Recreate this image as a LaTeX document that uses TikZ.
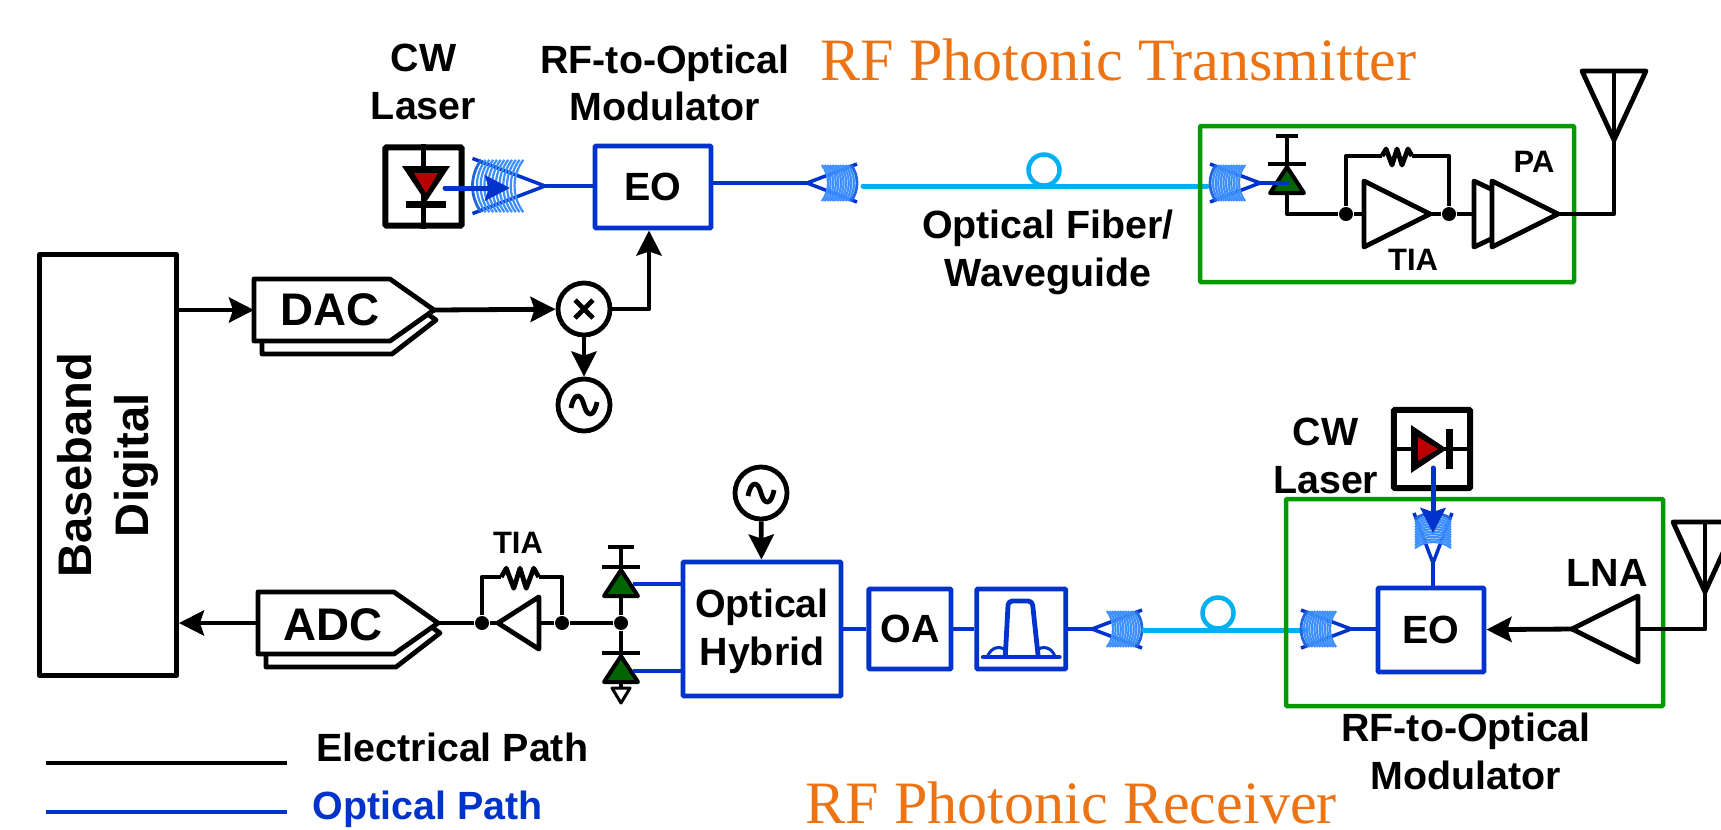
\documentclass[tikz,border=0pt]{standalone}
\usepackage{fontspec}
\setmainfont{Liberation Sans}
\newfontfamily\titlefont{Liberation Serif}
\usetikzlibrary{calc}
\usetikzlibrary{positioning}
\usetikzlibrary{arrows.meta}

\definecolor{optblue}{HTML}{0033CC}
\definecolor{grateblue}{HTML}{3D8FFF}
\definecolor{gratedark}{HTML}{1F66E0}
\definecolor{fiberblue}{HTML}{00B0F0}
\definecolor{boxgreen}{HTML}{009900}
\definecolor{pdgreen}{HTML}{006400}
\definecolor{ldred}{HTML}{B80000}
\definecolor{titleorange}{HTML}{ED7414}

\tikzset{
    wire/.style={draw=black, line width=0.048cm, line join=round},
    optwire/.style={draw=optblue, line width=0.048cm, line join=round},
    fiberline/.style={draw=fiberblue, line width=0.05cm, line cap=round},
    fiberloop/.style={circle, draw=fiberblue, line width=0.045cm, minimum size=0.31cm, inner sep=0pt},
    arw/.style={-{Stealth[length=0.25cm, width=0.25cm, inset=0.04cm]}},
    lbl/.style={font=\fontsize{11.2}{13.6}\selectfont\bfseries, align=center, inner sep=0pt},
    smalllbl/.style={font=\fontsize{8.8}{10.5}\selectfont\bfseries, align=center, inner sep=0pt},
    biglbl/.style={font=\fontsize{13.4}{16.2}\selectfont\bfseries, align=center, inner sep=0pt},
    convlbl/.style={font=\fontsize{13}{16}\selectfont\bfseries, inner sep=0pt},
    titlelbl/.style={font=\fontsize{17.1}{20}\selectfont\titlefont, text=titleorange, inner sep=0pt},
    optbox/.style={rectangle, draw=optblue, line width=0.048cm, fill=white, rounded corners=0.01cm, inner sep=0pt, font=\fontsize{11.2}{13.6}\selectfont\bfseries},
    laserbox/.style={rectangle, draw=black, line width=0.06cm, minimum width=0.76cm, minimum height=0.78cm, rounded corners=0.01cm},
    groupbox/.style={draw=boxgreen, line width=0.045cm, rounded corners=0.01cm},
    oscnode/.style={circle, wire, fill=white, minimum size=0.52cm, inner sep=0pt},
    dot/.style={circle, fill=black, minimum size=0.14cm, inner sep=0pt},
    coupler/.pic={
        \draw [optwire, line width=0.035cm] (50,-19) -- (0,0) -- (50,19);
        \foreach \d in {21,23.6,...,48} {
            \draw [grateblue, line width=0.022cm] (\d-30,0) ++(-37:30) arc [start angle=-37, end angle=37, radius=30];
        }
        \draw [gratedark, line width=0.028cm] (20,0) ++(-37:30) arc [start angle=-37, end angle=37, radius=30];
        \coordinate (-apex) at (0,0);
        \coordinate (-end) at (50,0);
    },
    photodiode/.pic={
        \draw [wire, fill=pdgreen, line width=0.04cm] (0,0) -- (-17,26) -- (17,26) -- cycle;
        \draw [wire] (-19,-3) -- (19,-3);
        \coordinate (-cat) at (0,-3);
        \coordinate (-ano) at (0,26);
    },
    laserdiode/.pic={
        \fill (0,0) -- (-24,-36) -- (24,-36) -- cycle;
        \fill [ldred] (0,-9) -- (-12,-29) -- (12,-29) -- cycle;
        \draw [wire, line width=0.07cm] (-20,2) -- (20,2);
        \coordinate (-cat) at (0,2);
        \coordinate (-ano) at (0,-36);
    },
    amp/.pic={
        \draw [wire, fill=white] (0,0) -- (-66,-33) -- (-66,33) -- cycle;
        \coordinate (-in) at (-66,0);
        \coordinate (-out) at (0,0);
    },
    resistor/.pic={
        \fill [white] (-15,-3) rectangle (15,3);
        \draw [wire] (-15,0) -- (-11,-7) -- (-5,9) -- (0,-7) -- (5,9) -- (11,-7) -- (15,0);
    },
    sinewave/.pic={
        \draw [wire] (-13,3) .. controls (-10,-13) and (-3,-12) .. (0,0) .. controls (3,12) and (10,13) .. (13,-3);
    },
    dataconv/.pic={
        \draw [wire] (-172,31) -- (-172,44) -- (-42,44) -- (2,10) -- (-5,5);
        \draw [wire, fill=white] (0,0) -- (-44,-31) -- (-180,-31) -- (-180,31) -- (-44,31) -- cycle;
        \coordinate (-in) at (-180,0);
        \coordinate (-tip) at (0,0);
    },
    passband/.pic={
        \draw [optwire, line cap=round] (-38,28) -- (38,28);
        \draw [optwire, rounded corners=0.04cm] (-16,28) -- (-13,-28) -- (11,-28) -- (17,28);
        \draw [optwire, line width=0.03cm] (-34,28) .. controls (-30,17) and (-21,17) .. (-15,21);
        \draw [optwire, line width=0.03cm] (34,28) .. controls (30,17) and (21,17) .. (15,21);
    },
}

\begin{document}
\begin{tikzpicture}[x=0.01cm, y=-0.01cm]
    \useasboundingbox (0,0) rectangle (1721,829);
    \clip (0,0) rectangle (1721,829);

    % digital side
    \node [rectangle, wire, minimum width=1.37cm, minimum height=4.21cm, inner sep=0pt] (baseband) at (108,465) {};
    \node [biglbl, rotate=90] (bbtext) at (baseband) {Baseband\\Digital};
    \pic (dacA) at (434,310) {dataconv};
    \node [convlbl] (dactext) at (330,310) {DAC};
    \pic (adcA) at (438,623) {dataconv};
    \node [convlbl] (adctext) at (333,625) {ADC};

    % transmitter
    \node [titlelbl, anchor=west] (txtitle) at (820,60) {RF Photonic Transmitter};
    \node [laserbox] (laserA) at (423.5,186.5) {};
    \node [lbl, above=0.24cm of laserA] (cwA) {CW\\Laser};
    \draw [wire] (laserA.north) -- (laserA.south);
    \pic (ldA) at (426,202) {laserdiode};
    \node [optbox, minimum width=1.16cm, minimum height=0.82cm] (eoA) at (653,187) {EO};
    \node [lbl, above=0.215cm of eoA, xshift=0.12cm] (modA) {RF-to-Optical\\Modulator};
    \pic [rotate=180, scale=1.45] (cplA) at (545,186) {coupler};
    \pic (cplB) at (807,183) {coupler};
    \coordinate (lasoutA) at (445,188);
    \coordinate (lastipA) at (510,188);
    \draw [optwire, line width=0.05cm, line cap=round, arw] (lasoutA) -- (lastipA);
    \draw [optwire] (cplA-apex) -- (cplA-apex -| eoA.west);
    \draw [optwire] (eoA.east |- cplB-apex) -- (cplB-apex);

    \node [oscnode] (mixA) at (584,309) {};
    \draw [wire] ($(mixA)+(-9,-9)$) -- ($(mixA)+(9,9)$);
    \draw [wire] ($(mixA)+(-9,9)$) -- ($(mixA)+(9,-9)$);
    \node [oscnode] (oscA) at (584,405) {};
    \pic at (oscA) {sinewave};
    \draw [wire, arw] (baseband.east |- dacA-in) -- (dacA-in);
    \draw [wire, arw] (dacA-tip) -- (mixA);
    \draw [wire, arw] (mixA) -- (oscA);
    \draw [wire, arw] (mixA) -| ($(eoA.south)+(-4,0)$);

    \coordinate (fibA1) at (863,186);
    \coordinate (fibA2) at (1207,186);
    \draw [fiberline] (fibA1) -- (fibA2);
    \node [fiberloop] (loopA) at (1044,170) {};
    \node [lbl] (fibtext) at (1048,252) {Optical Fiber/\\Waveguide};

    \draw [groupbox] (1200,126) rectangle (1574,282);
    \pic [rotate=180] (cplC) at (1260,183) {coupler};
    \coordinate (vddA) at (1287,136);
    \coordinate (pdjoinA) at (1287,214);
    \node [dot] (dotA) at (1346,214) {};
    \node [dot] (dotB) at (1449,214) {};
    \draw [wire] ($(vddA)+(-11,0)$) -- ($(vddA)+(11,0)$);
    \draw [wire] (vddA) -- (pdjoinA) -- (dotA);
    \pic (pdA) at (1287,167) {photodiode};
    \draw [optwire] (cplC-apex) -- (1289,183);
    \pic (tiaA) at (1430,214) {amp};
    \draw [wire] (dotA) -- (tiaA-in);
    \draw [wire] (tiaA-out) -- (dotB);
    \coordinate (rfbA) at (1397,156);
    \draw [wire] (dotA) |- (rfbA) -| (dotB);
    \pic at (rfbA) {resistor};
    \node [smalllbl] (tiatextA) at (1413,260) {TIA};
    \draw [wire] (dotB) -- (1474,214);
    \draw [wire, fill=white] (1491,189) -- (1474,181) -- (1474,247) -- (1491,239);
    \pic (paA) at (1558,214) {amp};
    \node [smalllbl] (patext) at (1534,162) {PA};
    \coordinate (antA) at (1614,140);
    \draw [wire] (paA-out) -| (antA);
    \draw [wire] (antA) -- (1582,71) -- (1646,71) -- cycle;
    \draw [wire] (antA) -- (1614,71);

    % receiver
    \node [titlelbl, anchor=west] (rxtitle) at (805,803) {RF Photonic Receiver};
    \node [optbox, minimum width=1.58cm, minimum height=1.34cm] (hybrid) at (762,629) {};
    \node [lbl] (hybtext) at (762,631) {Optical\\Hybrid};
    \node [oscnode] (oscB) at (761,493) {};
    \pic at (oscB) {sinewave};
    \draw [wire, arw] (oscB) -- (hybrid);
    \node [optbox, minimum width=0.82cm, minimum height=0.80cm, right=0.23cm of hybrid] (oa) {OA};
    \node [optbox, minimum width=0.89cm, minimum height=0.80cm, right=0.21cm of oa] (filter) {};
    \pic at (filter) {passband};
    \draw [optwire] (hybrid) -- (oa);
    \draw [optwire] (oa) -- (filter);
    \pic (cplD) at (1092,629) {coupler};
    \draw [optwire] (filter) -- (cplD-apex);
    \coordinate (fibB1) at (1144,630);
    \coordinate (fibB2) at (1305,630);
    \draw [fiberline] (fibB1) -- (fibB2);
    \node [fiberloop] (loopB) at (1218,613) {};

    \draw [groupbox] (1286,499) rectangle (1663,706);
    \node [optbox, minimum width=1.06cm, minimum height=0.84cm] (eoB) at (1431,630) {EO};
    \pic [rotate=180] (cplE) at (1351,629) {coupler};
    \draw [optwire] (cplE-apex) -- (cplE-apex -| eoB.west);
    \pic [rotate=90] (cplF) at (1433,563) {coupler};
    \draw [optwire] (cplF-apex) -- (eoB.north -| cplF-apex);

    \node [laserbox] (laserB) at (1432,449) {};
    \draw [wire] (laserB.west) -- (laserB.east);
    \pic [rotate=90] (ldB) at (1447,449) {laserdiode};
    \coordinate (lasoutB) at (1433,468);
    \coordinate (lastipB) at (1433,533);
    \draw [optwire, line width=0.05cm, line cap=round, arw] (lasoutB) -- (lastipB);
    \node [lbl, left=0.12cm of laserB, yshift=-0.07cm] (cwB) {CW\\Laser};

    \pic [rotate=180] (lnaA) at (1572,629) {amp};
    \node [lbl] (lnatext) at (1607,573) {LNA};
    \draw [wire, arw] (lnaA-out) -- (eoB);
    \coordinate (antB) at (1705,592);
    \draw [wire] (lnaA-in) -| (antB);
    \draw [wire] (antB) -- (1673,522) -- (1737,522) -- cycle;
    \draw [wire] (antB) -- (1705,522);
    \node [lbl, below=0.14cm of eoB, xshift=0.35cm, yshift=-0.24cm] (modB) {RF-to-Optical\\Modulator};

    % detector and TIA
    \coordinate (vddB) at (621,547);
    \node [dot] (dotE) at (621,623) {};
    \node [dot] (dotD) at (562,623) {};
    \node [dot] (dotC) at (482,623) {};
    \coordinate (gndA) at (621,688);
    \draw [wire] ($(vddB)+(-13,0)$) -- ($(vddB)+(13,0)$);
    \draw [wire] (vddB) -- (dotE);
    \draw [wire] (dotE) -- (gndA);
    \pic (pdB) at (621,570) {photodiode};
    \pic (pdC) at (621,656) {photodiode};
    \draw [wire, fill=white, line width=0.03cm] ($(gndA)+(-9,0)$) -- ($(gndA)+(9,0)$) -- ($(gndA)+(0,15)$) -- cycle;
    \draw [optwire] (633,584) -- (hybrid.west |- 633,584);
    \draw [optwire] (633,671) -- (hybrid.west |- 633,671);
    \pic [rotate=180, xscale=0.62, yscale=0.79] (tiaB) at (498,623) {amp};
    \coordinate (rfbB) at (520,577);
    \draw [wire] (dotE) -- (dotD) -- (tiaB-in);
    \draw [wire] (dotC) |- (rfbB) -| (dotD);
    \pic [scale=1.25] at (rfbB) {resistor};
    \node [smalllbl] (tiatextB) at (518,543) {TIA};
    \draw [wire] (tiaB-out) -- (dotC) -- (adcA-tip);
    \draw [wire, arw] (adcA-in) -- (baseband.east |- adcA-in);

    % legend
    \coordinate (legA1) at (46,763);
    \coordinate (legA2) at (287,763);
    \coordinate (legB1) at (46,812);
    \coordinate (legB2) at (287,812);
    \draw [wire] (legA1) -- (legA2);
    \draw [optwire] (legB1) -- (legB2);
    \node [lbl, anchor=west] (legtextA) at (316,747) {Electrical Path};
    \node [lbl, anchor=west, text=optblue] (legtextB) at (312,809) {Optical Path};
\end{tikzpicture}
\end{document}
